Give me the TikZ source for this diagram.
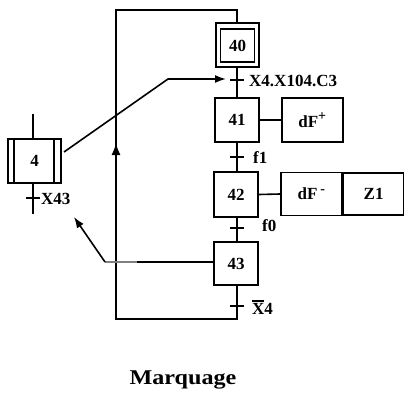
\documentclass[tikz,border=0pt]{standalone}
\usepackage{fontspec}
\setmainfont{Liberation Serif}
\usetikzlibrary{arrows.meta}
\begin{document}
\begin{tikzpicture}[x=1pt,y=-1pt,
  ln/.style={line width=1.6pt,line cap=rect},
  stepbox/.style={draw,line width=1.6pt,minimum width=44pt,minimum height=44pt,inner sep=0pt,font=\fontsize{17}{20}\selectfont\bfseries},
  actbox/.style={draw,line width=1.6pt,minimum width=61pt,minimum height=44pt,inner sep=0pt,font=\fontsize{17}{20}\selectfont\bfseries},
  lbl/.style={anchor=west,inner sep=0pt,font=\fontsize{17}{20}\selectfont\bfseries},
  arr/.style={line width=1.6pt,-{Latex[length=11pt,width=8pt]}}]
\useasboundingbox (0,0) rectangle (404,396);
% step 40 (initial)
\node[stepbox,minimum width=43pt,minimum height=44pt] (s40) at (237.5,45) {};
\node[stepbox,minimum width=34pt,minimum height=33pt] (s40i) at (237.5,45.5) {40};
% steps
\node[stepbox] (s41) at (237,120) {41};
\node[stepbox,minimum width=44pt,minimum height=45pt] (s42) at (236,194.5) {42};
\node[stepbox,minimum height=43pt] (s43) at (236,263.5) {43};
% actions
\node[actbox] (a41) at (312.5,120) {dF\textsuperscript{\fontsize{14}{14}\selectfont +}};
\node[actbox,minimum height=43pt] (a42) at (311.5,194) {dF\,\textsuperscript{\fontsize{14}{14}\selectfont -}};
\node[actbox,minimum width=60pt,minimum height=42pt,anchor=west] (z1) at (a42.east) {Z1};
% action links
\draw[ln] (s41.east) -- (a41.west);
\draw[ln] (s42.east) -- (a42.west);
% vertical links and transitions
\coordinate (t40) at (237,80);
\coordinate (t41) at (237,157);
\coordinate (t42) at (237,228);
\coordinate (t43) at (237,306);
\draw[ln] (s40.south -| t40) -- (s41.north -| t40);
\draw[ln] (s41.south -| t41) -- (s42.north -| t41);
\draw[ln] (s42.south -| t42) -- (s43.north -| t42);
\draw[ln] ([xshift=-6pt]t40) -- ([xshift=6pt]t40);
\draw[ln] ([xshift=-6pt]t41) -- ([xshift=6pt]t41);
\draw[ln] ([xshift=-6pt]t42) -- ([xshift=6pt]t42);
\draw[ln] ([xshift=-6pt]t43) -- ([xshift=6pt]t43);
\node[lbl] (l40) at (249,81) {X4.X104.C3};
\node[lbl] (l41) at (253,158) {f1};
\node[lbl] (l42) at (262,226) {f0};
\node[lbl] (l43) at (252,307) {\rlap{\rule[13pt]{12pt}{2pt}}X4};
% return loop
\coordinate (cb) at (237,319);
\coordinate (lb) at (116,319);
\coordinate (lt) at (116,10);
\coordinate (rt) at (237,10);
\draw[ln] (s43.south -| cb) -- (cb) -- (lb) -- (lt) -- (rt) -- (s40.north -| rt);
\coordinate (ua) at (116,175);
\coordinate (ub) at (116,143);
\draw[line width=1.6pt,-{Latex[length=12pt,width=9pt]}] (ua) -- (ub);
% step 4 (macro-step)
\node[stepbox,minimum width=53pt,minimum height=44pt] (s4) at (34.5,161) {};
\draw[line width=1.6pt] ([xshift=7pt]s4.north west) -- ([xshift=7pt]s4.south west);
\draw[line width=1.6pt] ([xshift=-8pt]s4.north east) -- ([xshift=-8pt]s4.south east);
\node[inner sep=0pt,font=\fontsize{17}{20}\selectfont\bfseries] (s4t) at (s4.center) {4};
\coordinate (s4top) at (33,115);
\coordinate (s4bot) at (33,213);
\coordinate (t4) at (33,198);
\draw[ln] (s4top) -- (s4.north -| s4top);
\draw[ln] (s4.south -| s4bot) -- (s4bot);
\draw[ln] ([xshift=-6pt]t4) -- ([xshift=6pt]t4);
\node[lbl] (l4) at (41,199) {X43};
% arrow from step 4 to transition 40
\coordinate (bend) at (168,79);
\coordinate (tip) at (226,79);
\coordinate (s4out) at (64,152);
\draw[arr] (s4out) -- (bend) -- (tip);
% arrow from step 43 back to step 4
\coordinate (c43) at (105,262);
\coordinate (tip4) at (74,217);
\draw[line width=1.6pt] (s43.west |- c43) -- (c43);
\draw[line width=2pt,gray] (c43) -- (137,262);
\draw[arr] (c43) -- (tip4);
% caption
\node[inner sep=0pt,font=\fontsize{21}{24}\selectfont\bfseries] (cap) at (183,380) {\scalebox{1.15}[1]{Marquage}};
\end{tikzpicture}
\end{document}
